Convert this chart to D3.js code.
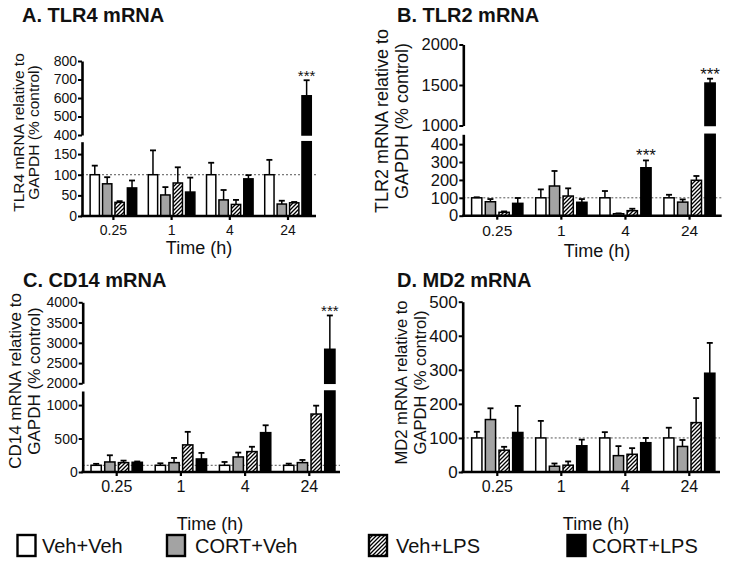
<!DOCTYPE html>
<html>
<head>
<meta charset="utf-8">
<script src="https://cdn.jsdelivr.net/npm/d3@7"></script>
<style>
  body { margin: 0; background: #fff; }
  svg text { font-family: "Liberation Sans", Arial, sans-serif; fill: #111; }
</style>
</head>
<body>
<svg id="chart" width="729" height="563"></svg>
<script>
/* valori (% control), righe = tempi, colonne = gruppi */
const times  = ["0.25", "1", "4", "24"];
const groups = ["Veh+Veh", "CORT+Veh", "Veh+LPS", "CORT+LPS"];

const tlr4Mean = [[100, 78, 33, 68], [100, 51, 80, 58], [100, 39, 28, 90], [100, 29, 32, 612]];
const tlr4Sem  = [[22, 16, 3, 18],   [59, 19, 38, 35],  [29, 24, 11, 9],  [36, 8, 2, 84]];
const tlr4TicksLo = [0, 50, 100, 150];
const tlr4TicksHi = [400, 500, 600, 700, 800];

const tlr2Mean = [[100, 78, 19, 69], [100, 166, 110, 75], [100, 11, 28, 268], [100, 76, 198, 1524]];
const tlr2Sem  = [[3, 15, 5, 30],    [47, 84, 43, 18],    [38, 2, 11, 41],    [17, 15, 24, 54]];
const tlr2TicksLo = [0, 100, 200, 300, 400];
const tlr2TicksHi = [1000, 1500, 2000];

const cd14Mean = [[100, 150, 140, 145], [100, 140, 405, 195], [100, 225, 305, 588], [100, 140, 866, 2840]];
const cd14Sem  = [[22, 100, 30, 12],    [30, 70, 195, 90],    [50, 65, 72, 110],    [25, 40, 125, 835]];
const cd14TicksLo = [0, 500, 1000];
const cd14TicksHi = [2000, 2500, 3000, 3500, 4000];

const md2Mean = [[100, 154, 64, 116], [100, 17, 20, 77], [100, 48, 52, 86], [100, 75, 145, 290]];
const md2Sem  = [[18, 33, 10, 78],    [50, 8, 11, 18],   [17, 28, 18, 14],  [30, 19, 72, 89]];
const md2Ticks = [0, 100, 200, 300, 400, 500];

const yTitle2 = "GAPDH (% control)";
const xTitle  = "Time (h)";

/* ── layout pannelli ─────────────────────────── */
const panels = [
  { title: "A. TLR4 mRNA", tx: 22, ty: 22, mean: tlr4Mean, sem: tlr4Sem,
    yTitle: "TLR4 mRNA relative to", yt: [18.3, 33.3], ytc: 132.5, ytFont: 15.5,
    axisX: 82, xEnd: 316, band: [84.3, 317.1], xFont: 14, xtY: 254, xtX: 199,
    loDom: [0, 180], loRng: [216, 141.7], loTicks: tlr4TicksLo,
    hiDom: [400, 800], hiRng: [135, 61], hiTicks: tlr4TicksHi, yFont: 14,
    stars: [3], starFont: 15 },
  { title: "B. TLR2 mRNA", tx: 397, ty: 22, mean: tlr2Mean, sem: tlr2Sem,
    yTitle: "TLR2 mRNA relative to", yt: [382, 402], ytc: 121, ytFont: 18,
    axisX: 463.3, xEnd: 721.7, band: [465.2, 721.6], xFont: 15.5, xtY: 257, xtX: 597,
    loDom: [0, 455], loRng: [215.7, 134.3], loTicks: tlr2TicksLo,
    hiDom: [1000, 2000], hiRng: [125.5, 44.5], hiTicks: tlr2TicksHi, yFont: 16.5,
    stars: [2, 3], starFont: 17 },
  { title: "C. CD14 mRNA", tx: 23, ty: 287, mean: cd14Mean, sem: cd14Sem,
    yTitle: "CD14 mRNA relative to", yt: [14.7, 34], ytc: 381, ytFont: 17,
    axisX: 82.7, xEnd: 340, band: [84.6, 341.4], xFont: 16, xtY: 530, xtX: 210,
    loDom: [0, 1210], loRng: [472, 391], loTicks: cd14TicksLo,
    hiDom: [2000, 4000], hiRng: [383.3, 302.3], hiTicks: cd14TicksHi, yFont: 14,
    stars: [3], starFont: 15 },
  { title: "D. MD2 mRNA", tx: 397, ty: 287, mean: md2Mean, sem: md2Sem,
    yTitle: "MD2 mRNA relative to", yt: [400.8, 420], ytc: 382.5, ytFont: 16.6,
    axisX: 462.7, xEnd: 720, band: [465.3, 721.3], xFont: 16, xtY: 530, xtX: 596,
    loDom: [0, 500], loRng: [472, 301.7], loTicks: md2Ticks,
    hiDom: null, yFont: 17,
    stars: [], starFont: 15 }
];

const fills = ["#ffffff", "#a3a3a3", "url(#hatch)", "#000000"];

const svg = d3.select("#chart");

// tratteggio diagonale "/"
svg.append("defs").append("pattern")
  .attr("id", "hatch")
  .attr("patternUnits", "userSpaceOnUse")
  .attr("width", 4).attr("height", 4)
  .call(p => p.append("rect").attr("width", 4).attr("height", 4).attr("fill", "#fff"))
  .append("path")
  .attr("d", "M-1,1 l2,-2 M0,4 l4,-4 M3,5 l2,-2")
  .attr("stroke", "#000")
  .attr("stroke-width", 1.3);

function drawPanel(p) {
  const g = svg.append("g");

  const x0 = d3.scaleBand().domain(times).range(p.band).paddingInner(0.2).paddingOuter(0.1);
  const x1 = d3.scaleBand().domain(groups).range([0, x0.bandwidth()]).paddingInner(0.25);
  const lo = d3.scaleLinear().domain(p.loDom).range(p.loRng);
  const hi = p.hiDom ? d3.scaleLinear().domain(p.hiDom).range(p.hiRng) : null;
  const loMax = p.loDom[1];
  const yOf = v => (hi && v > loMax) ? hi(v) : lo(v);

  // titolo pannello
  g.append("text")
    .attr("x", p.tx).attr("y", p.ty)
    .attr("font-size", 20).attr("font-weight", "bold")
    .text(p.title);

  // linea tratteggiata al 100%
  g.append("line")
    .attr("x1", p.axisX).attr("x2", p.xEnd)
    .attr("y1", lo(100)).attr("y2", lo(100))
    .attr("stroke", "#555").attr("stroke-width", 1)
    .attr("stroke-dasharray", "2,2");

  // barre
  p.mean.forEach((row, i) => {
    row.forEach((v, j) => {
      const bx = x0(times[i]) + x1(groups[j]);
      const bw = x1.bandwidth();
      const cx = bx + bw / 2;
      const parts = (hi && v > loMax)
        ? [[0, loMax, lo], [p.hiDom[0], v, hi]]
        : [[0, v, lo]];
      parts.forEach(([a, b, sc]) => {
        g.append("rect")
          .attr("x", bx).attr("width", bw)
          .attr("y", sc(b)).attr("height", sc(a) - sc(b))
          .attr("fill", fills[j])
          .attr("stroke", "#000").attr("stroke-width", 1.5);
      });

      // barra d'errore (solo verso l'alto)
      const e = v + p.sem[i][j];
      const ye = yOf(e);
      g.append("line")
        .attr("x1", cx).attr("x2", cx)
        .attr("y1", yOf(v)).attr("y2", ye)
        .attr("stroke", "#000").attr("stroke-width", 1.5);
      g.append("line")
        .attr("x1", cx - 3).attr("x2", cx + 3)
        .attr("y1", ye).attr("y2", ye)
        .attr("stroke", "#000").attr("stroke-width", 1.8);

      if (j === 3 && p.stars.includes(i)) {
        g.append("text")
          .attr("x", cx).attr("y", ye + 1)
          .attr("text-anchor", "middle")
          .attr("font-size", p.starFont)
          .text("***");
      }
    });
  });

  // asse Y (spezzato se serve)
  const styleAxis = sel => {
    sel.select(".domain").attr("stroke-width", 2.6);
    sel.selectAll(".tick line").attr("stroke-width", 2);
    sel.selectAll(".tick text")
      .attr("font-size", p.yFont)
      .attr("font-family", "Liberation Sans, Arial, sans-serif")
      .attr("fill", "#111");
  };
  const fmt = d3.format("d");

  g.append("g")
    .attr("transform", `translate(${p.axisX},0)`)
    .call(d3.axisLeft(lo).tickValues(p.loTicks).tickFormat(fmt)
      .tickSize(4).tickSizeOuter(0).tickPadding(1))
    .call(styleAxis);

  if (hi) {
    g.append("g")
      .attr("transform", `translate(${p.axisX},0)`)
      .call(d3.axisLeft(hi).tickValues(p.hiTicks).tickFormat(fmt)
        .tickSize(4).tickSizeOuter(0).tickPadding(1))
      .call(styleAxis);
  }

  // asse X
  const xa = g.append("g")
    .attr("transform", `translate(0,${lo(0)})`)
    .call(d3.axisBottom(x0).tickSize(4).tickSizeOuter(0).tickPadding(5));
  xa.select(".domain").remove();
  xa.selectAll(".tick line").attr("stroke-width", 2.2);
  xa.selectAll(".tick text")
    .attr("font-size", p.xFont)
    .attr("font-family", "Liberation Sans, Arial, sans-serif")
    .attr("fill", "#111");
  g.append("line")
    .attr("x1", p.axisX - 1.3).attr("x2", p.xEnd)
    .attr("y1", lo(0)).attr("y2", lo(0))
    .attr("stroke", "#000").attr("stroke-width", 2.6);

  g.append("text")
    .attr("x", p.xtX).attr("y", p.xtY)
    .attr("text-anchor", "middle")
    .attr("font-size", 18)
    .text(xTitle);

  // titolo asse Y su due righe
  [p.yTitle, yTitle2].forEach((t, k) => {
    g.append("text")
      .attr("transform", `translate(${p.yt[k]},${p.ytc}) rotate(-90)`)
      .attr("text-anchor", "middle")
      .attr("dy", "0.35em")
      .attr("font-size", p.ytFont)
      .text(t);
  });
}

panels.forEach(drawPanel);

/* ── legenda ─────────────────────────────────── */
const legBoxX  = [17.5, 167, 369, 567.5];
const legTextX = [42, 195, 396, 592];
const leg = svg.append("g");
groups.forEach((name, j) => {
  leg.append("rect")
    .attr("x", legBoxX[j]).attr("y", 535)
    .attr("width", 18).attr("height", 21)
    .attr("fill", fills[j])
    .attr("stroke", "#000").attr("stroke-width", 2.4);
  leg.append("text")
    .attr("x", legTextX[j]).attr("y", 553)
    .attr("font-size", 20)
    .text(name);
});
</script>
</body>
</html>
